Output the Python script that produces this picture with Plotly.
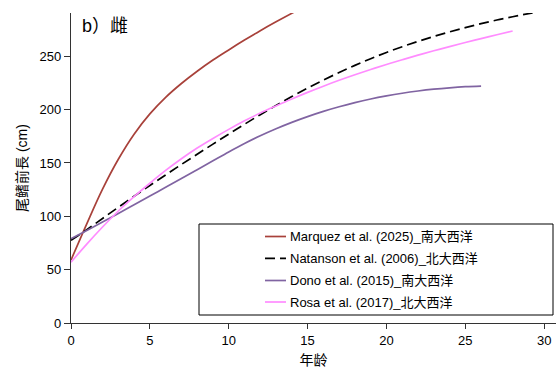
import plotly.graph_objects as go

# Ages (years) and fork lengths (cm)
age_marquez = list(range(0, 16))
len_marquez = [59, 93, 125.5, 153.5, 177, 196, 211.5, 224.5, 236, 246.5, 256, 265.2, 274, 282.3,
               290.3, 298]

age_natanson = list(range(0, 31))
len_natanson = [77.5, 87.5, 98, 108.5, 118.8, 128.9, 138.8, 148.6, 158.2, 167.7, 177.1, 186.3,
                195.3, 204, 212.3, 220.2, 227.7, 234.8, 241.5, 247.8, 253.6, 259, 264, 268.6,
                272.9, 276.9, 280.6, 284, 287.1, 290, 292.7]

age_dono = list(range(0, 27))
len_dono = [79, 86.8, 94.7, 102.7, 110.8, 119, 127.2, 135.4, 143.7, 152, 160.3, 168.2, 175.5,
            182.1, 188.1, 193.5, 198.4, 202.7, 206.6, 210, 212.9, 215.4, 217.5, 219.2, 220.5,
            221.5, 222.1]

age_rosa = list(range(0, 29))
len_rosa = [57, 74, 90, 105, 118.5, 131, 143, 154, 164, 173, 181.5, 189.5, 196.8, 203.5, 210,
            216.2, 222, 227.5, 232.7, 237.6, 242.3, 246.8, 251.1, 255.2, 259.1, 262.9, 266.6,
            270.2, 273.7]

names = ["Marquez et al. (2025)_南大西洋", "Natanson et al. (2006)_北大西洋",
         "Dono et al. (2015)_南大西洋", "Rosa et al. (2017)_北大西洋"]
colors = ["#A8413A", "#000000", "#8064A2", "#FF8CFF"]
dashes = ["solid", "10px,5px", "solid", "solid"]

xticks = [0, 5, 10, 15, 20, 25, 30]
yticks = [0, 50, 100, 150, 200, 250]

FONT = "Liberation Sans, Arial, Noto Sans CJK SC, sans-serif"

fig = go.Figure()
series = [(age_marquez, len_marquez), (age_natanson, len_natanson),
          (age_dono, len_dono), (age_rosa, len_rosa)]
for (xs, ys), nm, c, d in zip(series, names, colors, dashes):
    fig.add_trace(go.Scatter(x=xs, y=ys, mode="lines", name=nm,
                             line=dict(color=c, width=1.7, dash=d, shape="spline", smoothing=1.0),
                             showlegend=False))

W, H = 556, 372
ml, mr, mt, mb = 71, 0, 13, 49
pw, ph = W - ml - mr, H - mt - mb

def px2paper(px, py):
    return (px - ml) / pw, (H - mb - py) / ph

shapes = []
annotations = []
# legend box
x0, y0 = px2paper(199, 315)
x1, y1 = px2paper(553, 224)
shapes.append(dict(type="rect", xref="paper", yref="paper", x0=x0, y0=y0, x1=x1, y1=y1,
                   line=dict(color="#000000", width=1), fillcolor="white", layer="above"))
rows = [236.5, 258.3, 280.5, 302]
for py, nm, c, d in zip(rows, names, colors, dashes):
    lx0, ly = px2paper(265, py)
    lx1, _ = px2paper(286, py)
    shapes.append(dict(type="line", xref="paper", yref="paper", x0=lx0, x1=lx1, y0=ly, y1=ly,
                       line=dict(color=c, width=1.7, dash=d), layer="above"))
    tx, _ = px2paper(288, py)
    annotations.append(dict(xref="paper", yref="paper", x=tx, y=ly, text=nm, showarrow=False,
                            xanchor="left", yanchor="middle",
                            font=dict(family=FONT, size=13, color="#000000")))

# panel label
lx, ly = px2paper(80, 26)
annotations.append(dict(xref="paper", yref="paper", x=lx, y=ly, text="b）雌", showarrow=False,
                        xanchor="left", yanchor="middle",
                        font=dict(family=FONT, size=18, color="#000000")))

fig.update_layout(
    width=W, height=H,
    margin=dict(l=ml, r=mr, t=mt, b=mb),
    paper_bgcolor="white", plot_bgcolor="white",
    font=dict(family=FONT, size=13, color="#000000"),
    shapes=shapes, annotations=annotations,
    xaxis=dict(range=[0, 30.75], tickvals=xticks, ticks="outside", ticklen=5,
               tickcolor="#333333", showline=True, linecolor="#333333", linewidth=1.2,
               showgrid=False, zeroline=False,
               title=dict(text="年龄", standoff=8, font=dict(size=14))),
    yaxis=dict(range=[0, 290.6], tickvals=yticks, ticks="outside", ticklen=6,
               tickcolor="#333333", showline=True, linecolor="#333333", linewidth=1.2,
               showgrid=False, zeroline=False,
               title=dict(text="尾鳍前長 (cm)", standoff=8, font=dict(size=14))),
)

fig.write_html("out.html")
